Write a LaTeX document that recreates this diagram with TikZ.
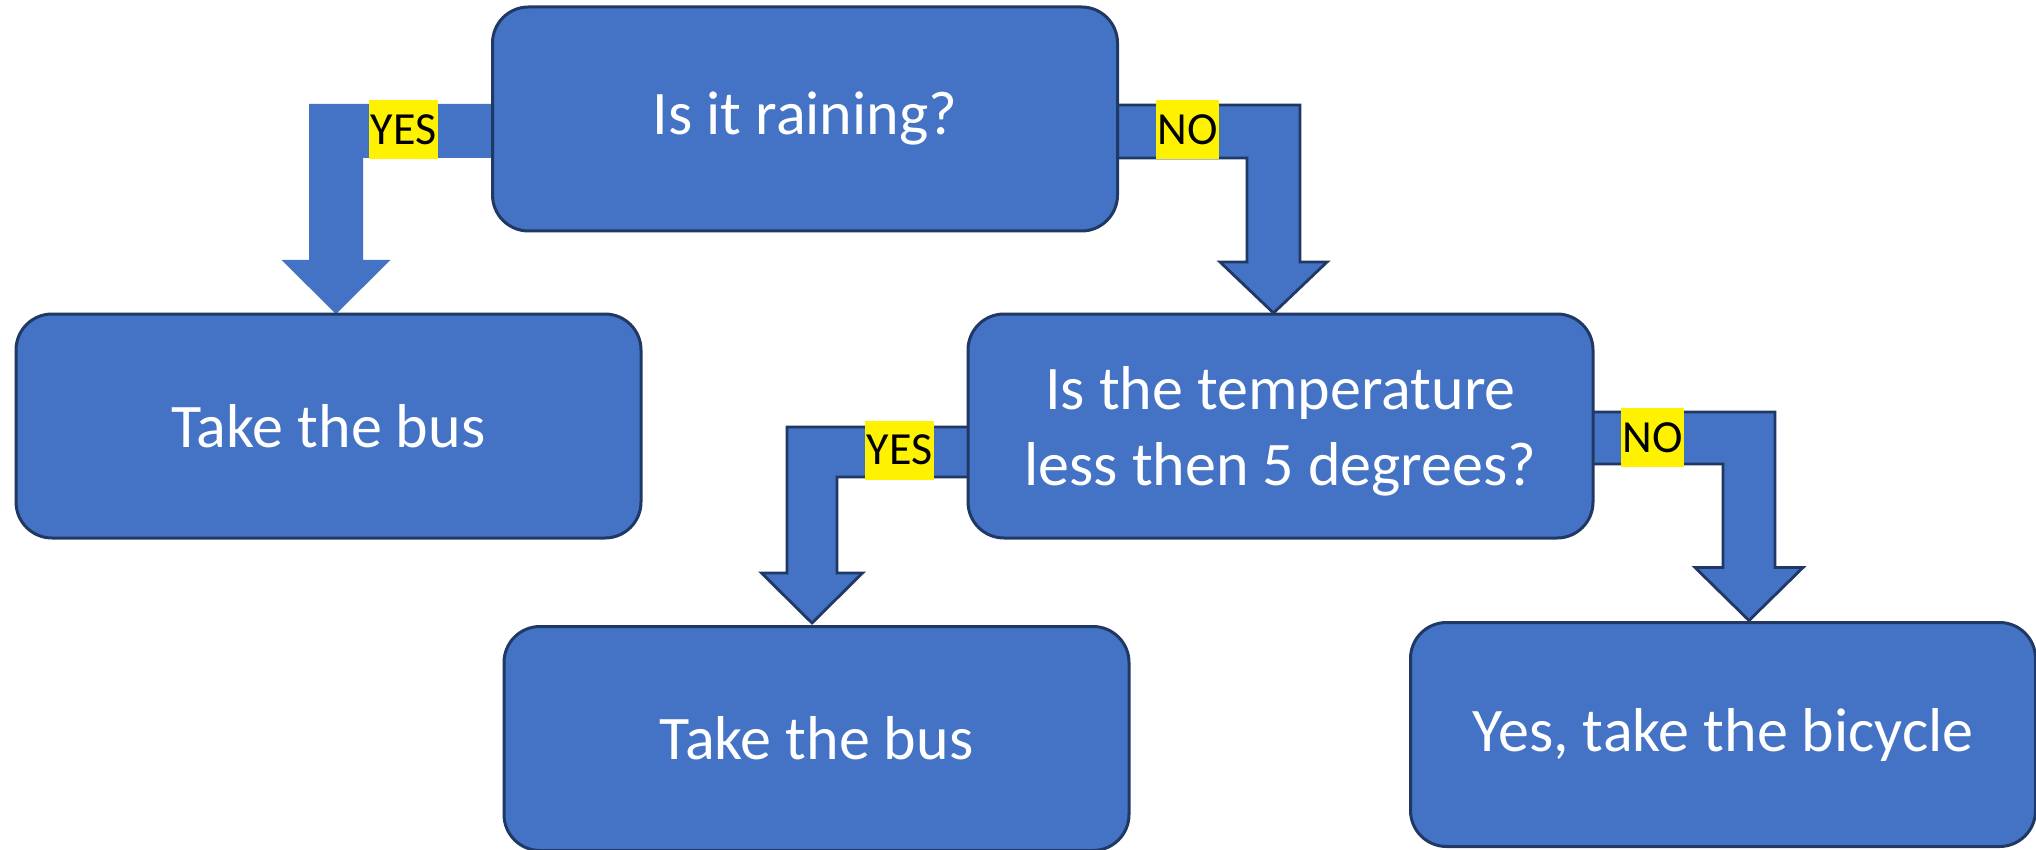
\documentclass[tikz,border=0pt]{standalone}
\usepackage{fontspec}
\setmainfont{Carlito}
\usetikzlibrary{calc,backgrounds}
\definecolor{shapeblue}{HTML}{4472C4}
\definecolor{shapeline}{HTML}{203864}
\tikzset{
  stepbox/.style={draw=shapeline, line width=3pt, fill=shapeblue, rounded corners=36pt,
    minimum width=625pt, minimum height=224pt, inner sep=0pt, outer sep=0pt, text=white,
    font=\fontsize{62}{76}\selectfont, align=center},
  flowarrow/.style={fill=shapeblue},
  flowarrowlined/.style={fill=shapeblue, draw=shapeline, line width=2.8pt, line join=miter},
  answer/.style={fill=yellow, text=black, inner sep=0pt, minimum height=59pt,
    font=\fontsize{46}{56}\selectfont},
}
\begin{document}
\begin{tikzpicture}[x=1pt,y=-1pt]
\useasboundingbox (0,0) rectangle (2036,850);

% decision and outcome boxes
\node[stepbox] (rain) at (805,119) {Is it raining?};
\node[stepbox] (bus1) at (328.5,426) {Take the bus};
\node[stepbox, text depth=0pt] (temp) at (1280.5,426) {Is the temperature\\less then 5 degrees?};
\node[stepbox] (bus2) at (816.5,738.5) {Take the bus};
\node[stepbox] (bike) at (1723,734.5) {Yes, take the bicycle};

% bent block arrows, kept behind the boxes
\begin{pgfonlayer}{background}
  \fill[white] (0,0) rectangle (2036,850);

  % rain -> bus1 (YES)
  \fill[flowarrow] let \p1=(rain.west), \p2=($(bus1.north)+(7.5,0)$) in
    (\x1+12pt,\y1+15pt) -- (\x2-27pt,\y1+15pt) -- (\x2-27pt,\y2+54pt)
    -- (\x2-54.5pt,\y2+54pt) -- (\x2,\y2) -- (\x2+54.5pt,\y2+54pt)
    -- (\x2+27pt,\y2+54pt) -- (\x2+27pt,\y1-39pt) -- (\x1+12pt,\y1-39pt) -- cycle;

  % rain -> temp (NO)
  \filldraw[flowarrowlined] let \p1=(rain.east), \p2=($(temp.north)+(-7,-1)$) in
    (\x1-12pt,\y1+14pt) -- (\x2+26.5pt,\y1+14pt) -- (\x2+26.5pt,\y2+51pt)
    -- (\x2+53.5pt,\y2+51pt) -- (\x2,\y2) -- (\x2-53.5pt,\y2+51pt)
    -- (\x2-26.5pt,\y2+51pt) -- (\x2-26.5pt,\y1-39pt) -- (\x1-12pt,\y1-39pt) -- cycle;

  % temp -> bus2 (YES)
  \filldraw[flowarrowlined] let \p1=(temp.west), \p2=($(bus2.north)+(-4.5,-3.5)$) in
    (\x1+12pt,\y1-1pt) -- (\x2-25pt,\y1-1pt) -- (\x2-25pt,\y2+50pt)
    -- (\x2-50.5pt,\y2+50pt) -- (\x2,\y2) -- (\x2+50.5pt,\y2+50pt)
    -- (\x2+25pt,\y2+50pt) -- (\x2+25pt,\y1-51pt) -- (\x1+12pt,\y1-51pt) -- cycle;

  % temp -> bike (NO)
  \filldraw[flowarrowlined] let \p1=(temp.east), \p2=($(bike.north)+(26,-2)$) in
    (\x1-12pt,\y1+14pt) -- (\x2+26pt,\y1+14pt) -- (\x2+26pt,\y2+53pt)
    -- (\x2+54pt,\y2+53pt) -- (\x2,\y2) -- (\x2-54pt,\y2+53pt)
    -- (\x2-26pt,\y2+53pt) -- (\x2-26pt,\y1-38pt) -- (\x1-12pt,\y1-38pt) -- cycle;
\end{pgfonlayer}

% answer tags on the arrows
\node[answer, minimum width=69pt] (yes1) at (403.5,129.5) {YES};
\node[answer, minimum width=63pt] (no1) at (1187.5,129.5) {NO};
\node[answer, minimum width=69pt] (yes2) at (899.5,450) {YES};
\node[answer, minimum width=63pt] (no2) at (1652.5,437.5) {NO};
\end{tikzpicture}
\end{document}
